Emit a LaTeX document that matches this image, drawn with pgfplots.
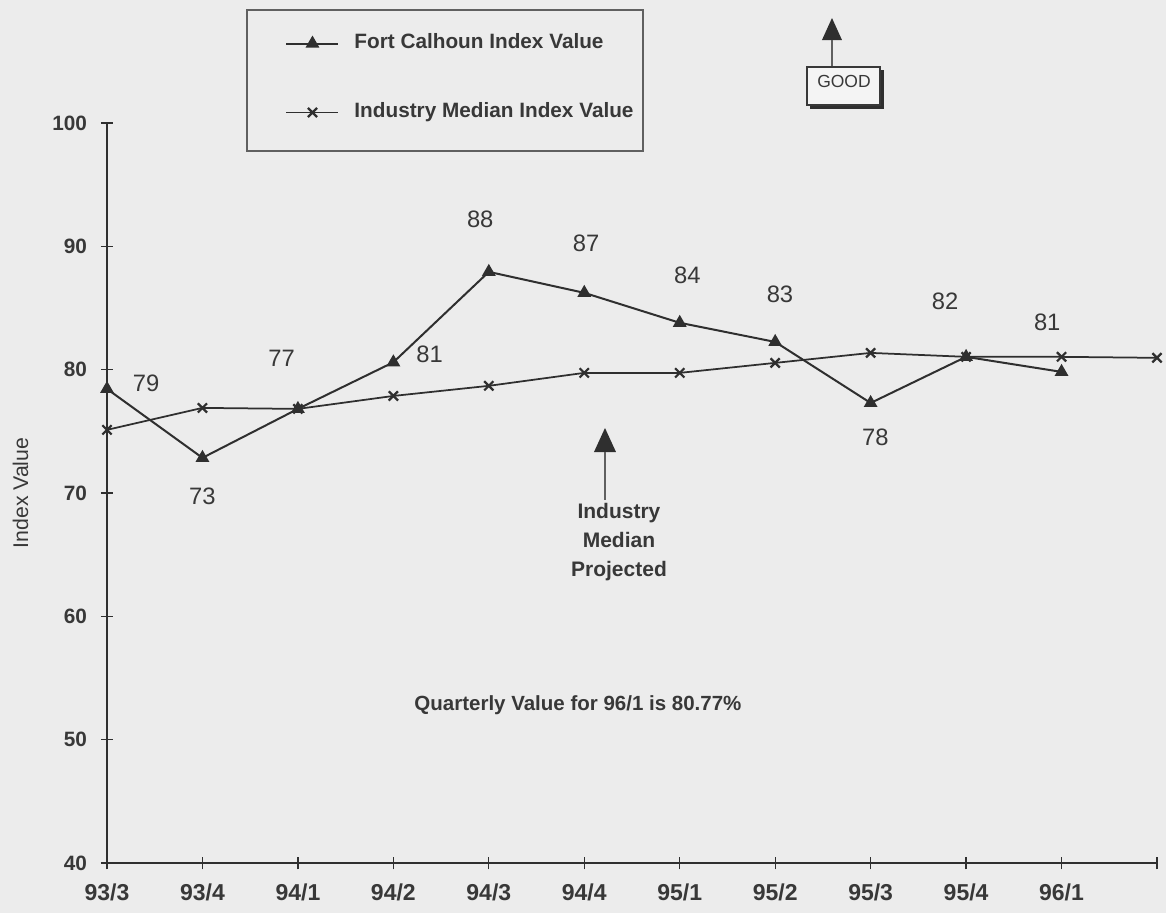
\documentclass[border=0pt]{standalone}
\usepackage{fontspec}
\setmainfont{Liberation Sans}
\usepackage{pgfplots}
\usepackage{pgfplotstable}
\pgfplotsset{compat=1.18}
\definecolor{bg}{HTML}{ECECEC}
\definecolor{ink}{HTML}{2F2F2F}
\definecolor{txt}{HTML}{383838}

\pgfplotstableread{
x y
0 78.44
1 72.85
2 76.82
3 80.60
4 87.93
5 86.23
6 83.80
7 82.25
8 77.30
9 81.04
10 79.82
}\fortdata

\pgfplotstableread{
x y
0 75.12
1 76.90
2 76.82
3 77.87
4 78.69
5 79.74
6 79.74
7 80.55
8 81.36
9 81.04
10 81.04
11 80.96
}\meddata

\begin{document}
\begin{tikzpicture}
\fill[bg] (0pt,0pt) rectangle (466.4pt,365.2pt);
\useasboundingbox (0pt,0pt) rectangle (466.4pt,365.2pt);
\begin{axis}[
  at={(42.8pt,20pt)}, anchor=south west,
  scale only axis, width=420pt, height=296pt,
  xmin=0, xmax=11, ymin=40, ymax=100,
  xtick={0,1,2,3,4,5,6,7,8,9,10,11},
  xticklabels={93/3,93/4,94/1,94/2,94/3,94/4,95/1,95/2,95/3,95/4,96/1,{}},
  ytick={40,50,60,70,80,90,100},
  axis x line=bottom, axis y line=left,
  axis line style={-, ink, line width=0.6pt},
  tick align=center, major tick length=5pt,
  tick style={ink, line width=0.5pt},
  /pgf/number format/assume math mode=true,
  xticklabel style={font=\fontsize{9.2}{10}\selectfont\bfseries, text=txt, yshift=-2.4pt},
  yticklabel style={font=\fontsize{8.3}{10}\selectfont\bfseries, text=txt, xshift=-2pt},
  clip=false,
  ylabel={Index Value},
  ylabel style={at={(axis description cs:-0.0824,0.5)}, anchor=center, font=\fontsize{8.5}{10}\selectfont, text=txt},
  legend style={at={(axis description cs:0.1695,1.1216)}, anchor=north west,
    draw=none, fill=none, inner sep=0pt, row sep=19.6pt, column sep=6pt,
    font=\fontsize{8.3}{10}\selectfont\bfseries, text=txt,
    nodes={inner sep=0pt, text height=6pt, text depth=2pt}},
  legend cell align=left,
  legend image code/.code={\draw[mark repeat=2,mark phase=2,#1] plot coordinates {(0pt,0pt) (10.4pt,0pt) (20.8pt,0pt)};},
]
\addplot[ink, line width=0.8pt, mark=triangle*, mark size=2.4pt, mark options={solid, fill=ink}] table {\fortdata};
\addlegendentry{Fort Calhoun Index Value}
\addplot[ink, line width=0.7pt, mark=x, mark size=2.6pt, mark options={solid, line width=0.9pt}] table {\meddata};
\addlegendentry{Industry Median Index Value}

\begin{scope}[every node/.style={font=\fontsize{9.5}{11}\selectfont, text=txt}]
\node at (axis cs:0.41,78.93) {79};
\node at (axis cs:1.00,69.77) {73};
\node at (axis cs:1.83,80.96) {77};
\node at (axis cs:3.38,81.28) {81};
\node at (axis cs:3.91,92.23) {88};
\node at (axis cs:5.02,90.28) {87};
\node at (axis cs:6.08,87.69) {84};
\node at (axis cs:7.05,86.07) {83};
\node at (axis cs:8.05,74.55) {78};
\node at (axis cs:8.78,85.58) {82};
\node at (axis cs:9.85,83.80) {81};
\end{scope}
\node[anchor=base, font=\fontsize{8.2}{10}\selectfont\bfseries, text=txt] at (axis cs:4.934,52.33) {Quarterly Value for 96/1 is 80.77\%};
\end{axis}

\begin{scope}[x=0.4pt,y=0.4pt]
% legend frame
\draw[txt!80, line width=0.6pt] (247,903) rectangle (643,762);

% Industry Median Projected arrow
\fill[ink] (605,485) -- (594,461) -- (616,461) -- cycle;
\draw[txt!80, line width=0.5pt] (605,461) -- (605,413);
\node[align=center, font=\fontsize{8.4}{11.6}\selectfont\bfseries, text=txt] at (619,371) {Industry\\Median\\Projected};

% GOOD indicator
\fill[ink] (832,895) -- (822,873) -- (842,873) -- cycle;
\draw[txt!80, line width=0.5pt] (832,873) -- (832,846);
\draw[ink, line width=1.6pt] (810,806) -- (882,806) -- (882,843);
\draw[txt, line width=0.5pt, fill=bg!60!white] (807,846) rectangle (880,808);
\node[font=\fontsize{7}{8}\selectfont, text=txt] at (844,832) {GOOD};
\end{scope}
\end{tikzpicture}
\end{document}
